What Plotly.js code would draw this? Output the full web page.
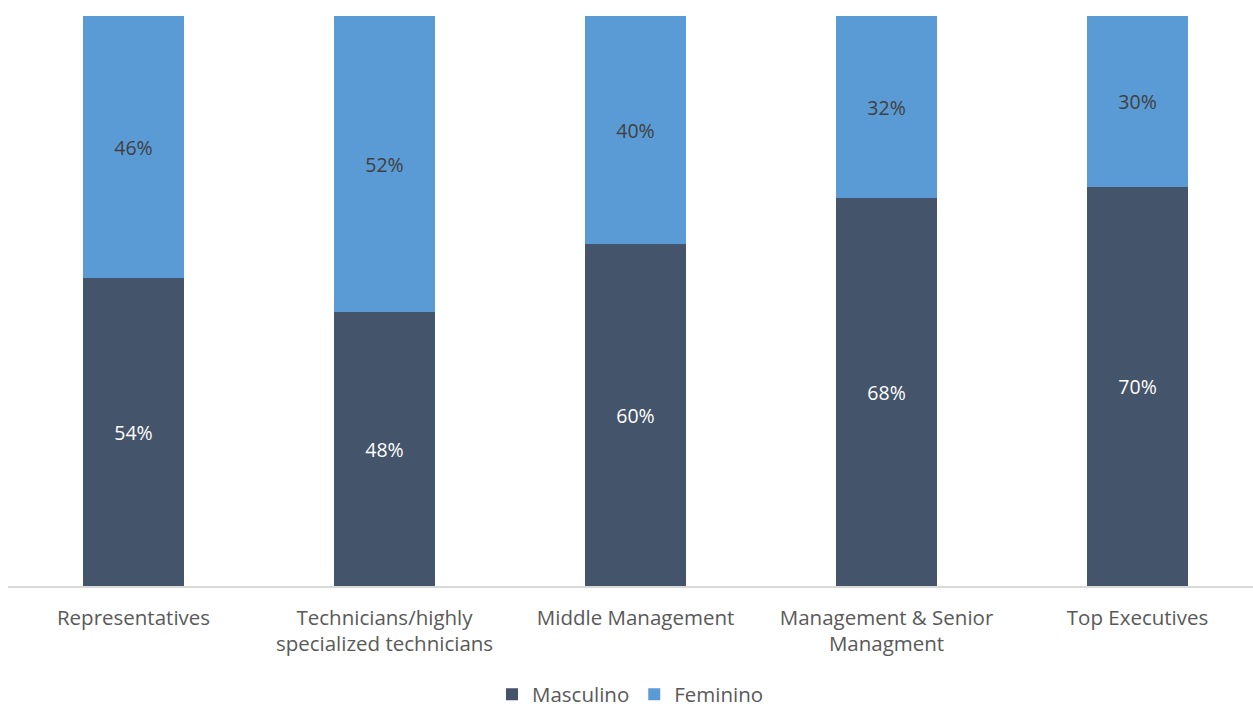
<!DOCTYPE html>
<html>
<head>
<meta charset="utf-8">
<script src="https://cdn.plot.ly/plotly-3.0.1.min.js"></script>
<style>html,body{margin:0;padding:0;background:#fff;}#chart{width:1253px;height:709px;}</style>
</head>
<body>
<div id="chart"></div>
<script>
const categories = ["Representatives", "Technicians/highly<br>specialized technicians", "Middle Management", "Management & Senior<br>Managment", "Top Executives"];
const masculino = [54, 48, 60, 68, 70];
const feminino = [46, 52, 40, 32, 30];
const seriesNames = ["Masculino", "Feminino"];

const fontFam = "'Open Sans', 'Liberation Sans', sans-serif";
const traces = [
  {
    type: "bar", name: seriesNames[0], x: categories, y: masculino,
    marker: {color: "#44546A"},
    text: masculino.map(v => v + "%"), textposition: "inside", insidetextanchor: "middle",
    textfont: {color: "#ffffff", size: 19.5, family: fontFam},
    hoverinfo: "skip"
  },
  {
    type: "bar", name: seriesNames[1], x: categories, y: feminino,
    marker: {color: "#5B9BD5"},
    text: feminino.map(v => v + "%"), textposition: "inside", insidetextanchor: "middle",
    textfont: {color: "#404040", size: 19.5, family: fontFam},
    hoverinfo: "skip"
  }
];
const layout = {
  width: 1253, height: 709,
  margin: {l: 8, r: 0, t: 16, b: 123, autoexpand: false},
  barmode: "stack", bargap: 0.6,
  paper_bgcolor: "#ffffff", plot_bgcolor: "#ffffff",
  font: {family: fontFam, color: "#595959", size: 20.5},
  xaxis: {
    type: "category", range: [-0.5, 4.46], automargin: false,
    showline: true, linecolor: "#d9d9d9", linewidth: 2,
    ticks: "outside", ticklen: 12, tickcolor: "rgba(0,0,0,0)",
    tickfont: {size: 20.5, color: "#595959", family: fontFam},
    showgrid: false, zeroline: false, fixedrange: true
  },
  yaxis: {range: [0, 100], visible: false, showgrid: false, zeroline: false, fixedrange: true},
  showlegend: true,
  legend: {orientation: "h", x: 0.5, xanchor: "center", y: -0.19, yanchor: "middle", traceorder: "normal",
           font: {size: 20.5, color: "#595959", family: fontFam}, itemwidth: 30, tracegroupgap: 0},
  uniformtext: {mode: false}
};
Plotly.newPlot("chart", traces, layout, {displayModeBar: false, staticPlot: true});
</script>
</body>
</html>
